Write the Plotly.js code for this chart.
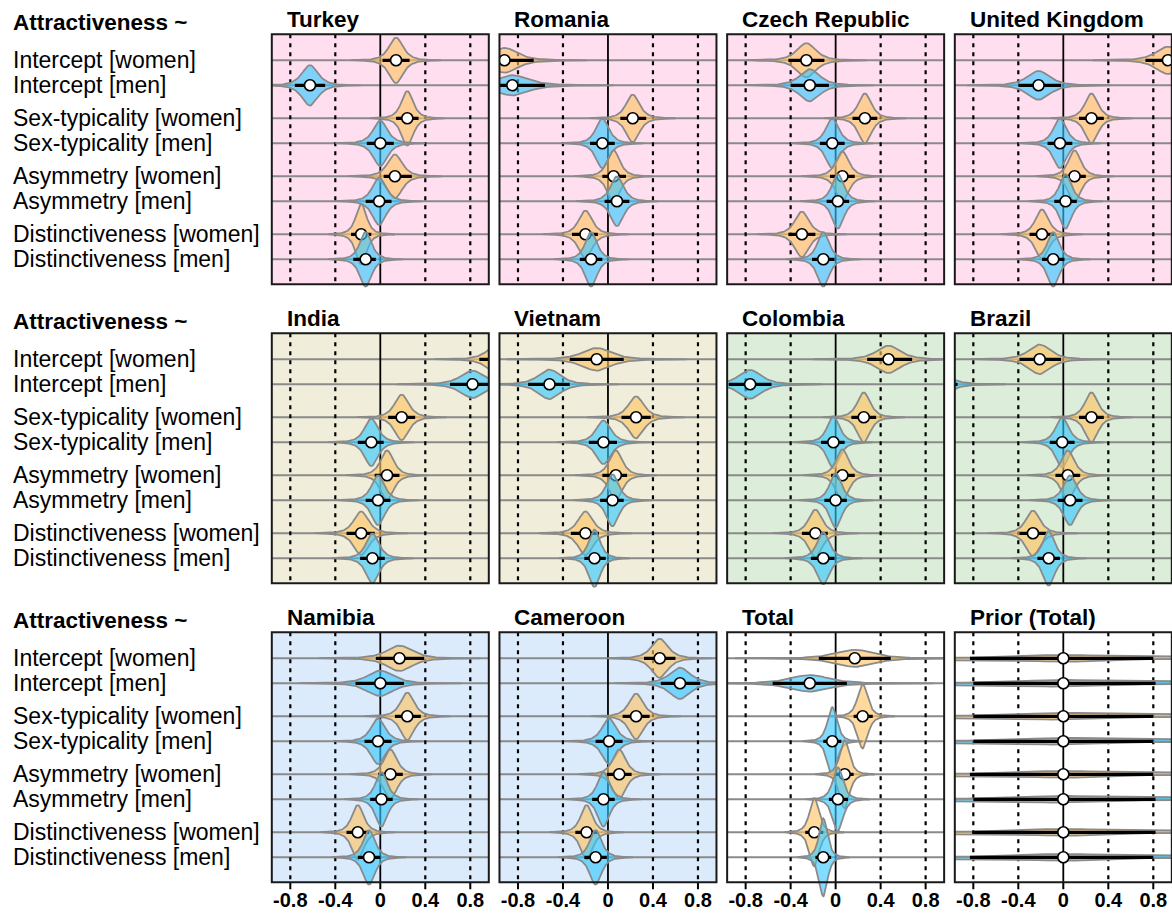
<!DOCTYPE html>
<html>
<head>
<meta charset="utf-8">
<script src="https://cdn.plot.ly/plotly-3.0.1.min.js"></script>
<style>html,body{margin:0;padding:0;background:#fff;}#chart{width:1172px;height:917px;}</style>
</head>
<body>
<div id="chart"></div>
<script>
// ---------------- DATA ----------------
const countries = ["Turkey","Romania","Czech Republic","United Kingdom","India","Vietnam","Colombia","Brazil","Namibia","Cameroon","Total","Prior (Total)"];
const predictors = ["Intercept [women]","Intercept [men]","Sex-typicality [women]","Sex-typicality [men]","Asymmetry [women]","Asymmetry [men]","Distinctiveness [women]","Distinctiveness [men]"];
const sexes = ["women","men","women","men","women","men","women","men"];
const tickVals = [-0.8,-0.4,0,0.4,0.8];
const tickText = ["-0.8","-0.4","0","0.4","0.8"];

// posterior median, lower and upper interval bound, per predictor row
const turkeyMid = [0.14,-0.625,0.24,0.0,0.13,-0.01,-0.17,-0.13];
const turkeyLo  = [0.02,-0.76,0.14,-0.12,0.03,-0.13,-0.26,-0.24];
const turkeyHi  = [0.26,-0.49,0.34,0.12,0.28,0.10,-0.08,-0.04];

const romaniaMid = [-0.92,-0.85,0.22,-0.05,0.05,0.08,-0.2,-0.15];
const romaniaLo  = [-1.1,-1.1,0.11,-0.16,-0.05,-0.03,-0.32,-0.25];
const romaniaHi  = [-0.66,-0.56,0.34,0.06,0.16,0.19,-0.09,-0.05];

const czechMid = [-0.26,-0.23,0.26,-0.03,0.06,0.02,-0.3,-0.11];
const czechLo  = [-0.42,-0.4,0.15,-0.14,-0.05,-0.08,-0.42,-0.21];
const czechHi  = [-0.1,-0.06,0.37,0.08,0.17,0.12,-0.18,-0.01];

const ukMid = [0.93,-0.22,0.25,-0.03,0.1,0.02,-0.19,-0.09];
const ukLo  = [0.73,-0.4,0.14,-0.14,-0.01,-0.08,-0.3,-0.19];
const ukHi  = [1.13,-0.02,0.36,0.08,0.2,0.12,-0.08,0.01];

const indiaMid = [1.05,0.82,0.19,-0.08,0.06,-0.02,-0.17,-0.07];
const indiaLo  = [0.88,0.62,0.07,-0.2,-0.05,-0.13,-0.3,-0.18];
const indiaHi  = [1.22,1.02,0.31,0.03,0.17,0.09,-0.05,0.04];

const vietnamMid = [-0.1,-0.52,0.25,-0.04,0.07,0.04,-0.2,-0.12];
const vietnamLo  = [-0.34,-0.71,0.12,-0.17,-0.05,-0.07,-0.33,-0.21];
const vietnamHi  = [0.14,-0.34,0.38,0.08,0.17,0.14,-0.08,-0.02];

const colombiaMid = [0.47,-0.76,0.25,-0.02,0.06,0.0,-0.18,-0.11];
const colombiaLo  = [0.28,-0.95,0.14,-0.13,-0.04,-0.1,-0.3,-0.22];
const colombiaHi  = [0.68,-0.57,0.36,0.08,0.17,0.1,-0.07,-0.01];

const brazilMid = [-0.21,-1.12,0.25,-0.01,0.04,0.06,-0.27,-0.13];
const brazilLo  = [-0.39,-1.3,0.14,-0.12,-0.07,-0.05,-0.39,-0.23];
const brazilHi  = [-0.02,-0.94,0.36,0.1,0.15,0.17,-0.15,-0.03];

const namibiaMid = [0.17,0.0,0.24,-0.02,0.09,0.01,-0.2,-0.1];
const namibiaLo  = [-0.04,-0.22,0.13,-0.14,-0.02,-0.09,-0.3,-0.2];
const namibiaHi  = [0.39,0.21,0.36,0.1,0.2,0.11,-0.1,0.0];

const cameroonMid = [0.46,0.64,0.25,0.01,0.1,-0.04,-0.19,-0.11];
const cameroonLo  = [0.32,0.47,0.13,-0.11,-0.01,-0.14,-0.29,-0.21];
const cameroonHi  = [0.6,0.82,0.37,0.13,0.21,0.06,-0.09,-0.01];

const totalMid = [0.17,-0.23,0.24,-0.03,0.08,0.02,-0.19,-0.11];
const totalLo  = [-0.15,-0.56,0.16,-0.11,0.0,-0.06,-0.27,-0.18];
const totalHi  = [0.49,0.1,0.33,0.05,0.16,0.11,-0.11,-0.04];

const priorMid = [0,0,0,0,0,0,0,0];
const priorLo  = [-0.83,-0.8,-0.8,-0.8,-0.83,-0.8,-0.81,-0.83];
const priorHi  = [0.8,0.82,0.8,0.8,0.8,0.82,0.82,0.8];

const panelData = [
  [turkeyMid,turkeyLo,turkeyHi],[romaniaMid,romaniaLo,romaniaHi],[czechMid,czechLo,czechHi],[ukMid,ukLo,ukHi],
  [indiaMid,indiaLo,indiaHi],[vietnamMid,vietnamLo,vietnamHi],[colombiaMid,colombiaLo,colombiaHi],[brazilMid,brazilLo,brazilHi],
  [namibiaMid,namibiaLo,namibiaHi],[cameroonMid,cameroonLo,cameroonHi],[totalMid,totalLo,totalHi],[priorMid,priorLo,priorHi]
];

// ---------------- STYLE / LAYOUT ----------------
const W = 1172, H = 917;
const FONT = "Liberation Sans, Arial, Helvetica, sans-serif";
const panelBg = ["#FFDFEF","#FFDFEF","#FFDFEF","#FFDFEF","#F0EEDA","#F0EEDA","#DCEDDA","#DCEDDA","#DCEBFC","#DCEBFC","#FFFFFF","#FFFFFF"];
const fillCol = {women:"rgba(255,195,95,0.62)", men:"rgba(50,200,255,0.62)"};
const OUTLINE = "#8A8A8A";

const colLeft0 = 271.8, colPitch = 227.67, panelW = 217;
const rowTop0 = 34.3, rowPitch = 299, panelH = 250;
const EXT = 26;           // extra drawing room above/below frame
const PXU = 58;           // pixels per y unit
const firstRowOff = 26;   // px from frame top to first row line
const XR = 0.9645;
const TICKLEN = 7;

// y position (in data units) for each predictor row
const rowY = [];
for (let k = 0; k < 4; k++) { rowY.push(k); rowY.push(k + 25/PXU); }

const traces = [];
const shapes = [];
const annotations = [];
const layout = {
  width: W, height: H,
  margin: {l:0, r:0, t:0, b:0},
  paper_bgcolor: "#ffffff",
  plot_bgcolor: "rgba(0,0,0,0)",
  showlegend: false,
  font: {family: FONT, color: "#000"},
};

// violin outline: peaked density scaled to equal area, centred on the median
function violinPath(m, lo, hi, yc) {
  const hw = (hi - lo) / 2;
  const s = hw / 1.8;
  const peak = 0.047 / hw;
  const N = 100, U = 6;
  const xs = [], ys = [];
  const dens = u => peak * Math.pow(1 + u*u/3, -2);
  for (let i = 0; i <= N; i++) { const u = -U + 2*U*i/N; xs.push(m + u*s); ys.push(yc - dens(u)); }
  for (let i = N; i >= 0; i--) { const u = -U + 2*U*i/N; xs.push(m + u*s); ys.push(yc + dens(u)); }
  xs.push(xs[0]); ys.push(ys[0]);
  return {xs, ys};
}

for (let p = 0; p < 12; p++) {
  const r = Math.floor(p / 4), c = p % 4;
  const L = colLeft0 + c * colPitch, R = L + panelW;
  const T = rowTop0 + r * rowPitch, B = T + panelH;
  const id = p === 0 ? "" : String(p + 1);
  const xa = "x" + id, ya = "y" + id;

  const yTop = -(firstRowOff + EXT) / PXU;
  const yBot = (panelH - firstRowOff + EXT) / PXU;

  const xaxis = {
    domain: [L / W, R / W], range: [-XR, XR],
    showgrid: false, zeroline: false, showline: false,
    anchor: "free", position: 1 - B / H,
    fixedrange: true,
  };
  if (r === 2) {
    Object.assign(xaxis, {
      tickmode: "array", tickvals: tickVals, ticktext: tickText.map(t => "<b>" + t + "</b>"),
      ticks: "", ticklabelstandoff: 4,
      tickfont: {family: FONT, size: 20, color: "#000"},
    });
    // tick marks below the frame
    tickVals.forEach(v => shapes.push({type:"line", xref:xa, yref:"paper", x0:v, x1:v,
      y0:1 - B / H, y1:1 - (B + TICKLEN) / H, line:{color:"#000", width:2}}));
  } else {
    Object.assign(xaxis, {showticklabels: false, ticks: ""});
  }
  layout["xaxis" + id] = xaxis;
  layout["yaxis" + id] = {
    domain: [1 - (B + EXT) / H, 1 - (T - EXT) / H],
    range: [yBot, yTop], visible: false, fixedrange: true, anchor: xa,
  };

  // panel background (inside frame)
  shapes.push({type:"rect", xref:xa, yref:ya, x0:-XR, x1:XR, y0:-firstRowOff/PXU, y1:(panelH-firstRowOff)/PXU,
    fillcolor: panelBg[p], line:{width:0}, layer:"below"});
  // row lines
  rowY.forEach(yv => shapes.push({type:"line", xref:xa, yref:ya, x0:-XR, x1:XR, y0:yv, y1:yv,
    line:{color:OUTLINE, width:2}, layer:"below"}));
  // dotted reference lines
  [-0.8,-0.4,0.4,0.8].forEach(v => shapes.push({type:"line", xref:xa, yref:ya, x0:v, x1:v,
    y0:-firstRowOff/PXU, y1:(panelH-firstRowOff)/PXU, line:{color:"#000", width:2.2, dash:"4px,5px"}, layer:"below"}));
  shapes.push({type:"line", xref:xa, yref:ya, x0:0, x1:0, y0:-firstRowOff/PXU, y1:(panelH-firstRowOff)/PXU,
    line:{color:"#000", width:1.8}, layer:"below"});
  // frame
  shapes.push({type:"rect", xref:"paper", yref:"paper", x0:L/W, x1:R/W, y0:1-B/H, y1:1-T/H,
    line:{color:"#1a1a1a", width:2}, fillcolor:"rgba(0,0,0,0)", layer:"above"});

  const [mid, lo, hi] = panelData[p];
  for (let k = 0; k < 8; k++) {
    const v = violinPath(mid[k], lo[k], hi[k], rowY[k]);
    traces.push({type:"scatter", mode:"lines", x:v.xs, y:v.ys, xaxis:xa, yaxis:ya,
      fill:"toself", fillcolor: fillCol[sexes[k]], line:{color:OUTLINE, width:1.8, shape:"linear"},
      hoverinfo:"skip"});
    traces.push({type:"scatter", mode:"lines+markers", x:[lo[k], mid[k], hi[k]], y:[rowY[k], rowY[k], rowY[k]],
      xaxis:xa, yaxis:ya, line:{color:"#000", width:3.2},
      marker:{size:[0,11,0], color:"#ffffff", opacity:1, line:{color:"#000", width:1.6}},
      hoverinfo:"skip"});
  }

  // panel title
  annotations.push({xref:"paper", yref:"paper", x:(L + 13) / W, y:1 - (T - 15) / H, xanchor:"left", yanchor:"middle",
    text:"<b>" + countries[p] + "</b>", showarrow:false, font:{family:FONT, size:22.5, color:"#000"}});

  if (c === 0) {
    annotations.push({xref:"paper", yref:"paper", x:11 / W, y:1 - (T - 12) / H, xanchor:"left", yanchor:"middle",
      text:"<b>Attractiveness ~</b>", showarrow:false, font:{family:FONT, size:22.5, color:"#000"}});
    predictors.forEach((lab, k) => annotations.push({xref:"paper", yref:ya, x:11 / W, y:rowY[k],
      xanchor:"left", yanchor:"middle", text:lab, showarrow:false, font:{family:FONT, size:23, color:"#000"}}));
  }
}

layout.shapes = shapes;
layout.annotations = annotations;

Plotly.newPlot("chart", traces, layout, {staticPlot:true, displayModeBar:false});
</script>
</body>
</html>
